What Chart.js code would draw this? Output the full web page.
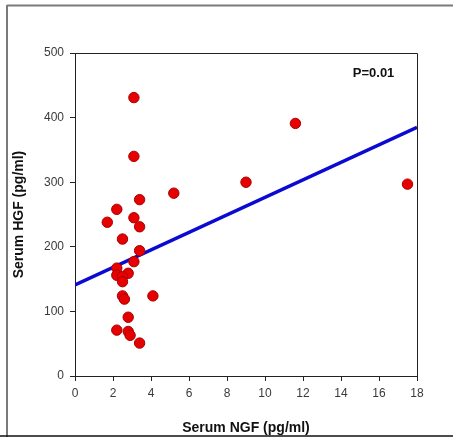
<!DOCTYPE html>
<html>
<head>
<meta charset="utf-8">
<script src="https://cdn.jsdelivr.net/npm/chart.js@4.4.1/dist/chart.umd.min.js"></script>
<style>
  html, body { margin: 0; padding: 0; background: #fff; }
  #wrap { width: 453px; height: 437px; position: relative; }
</style>
</head>
<body>
<div id="wrap"><canvas id="c" width="453" height="437"></canvas></div>
<script>
// Data
const ngfValues = [3.1, 3.1, 5.2, 3.4, 2.2, 1.7, 3.1, 3.4, 2.5, 3.4, 3.1, 2.2, 2.2, 2.8, 2.5, 2.5, 2.5, 2.6, 4.1, 2.8, 2.2, 2.8, 2.9, 3.4, 9.0, 11.6, 17.5];
const hgfValues = [431, 340, 283, 273, 258, 238, 245, 231, 212, 194, 177, 167, 156, 159, 154, 146, 124, 119, 124, 91, 71, 69, 63, 51, 300, 391, 297];
const fitX = [0, 18];
const fitY = [141, 385];
const xTicks = [0, 2, 4, 6, 8, 10, 12, 14, 16, 18];
const yTicks = [0, 100, 200, 300, 400, 500];
const xTitle = 'Serum NGF (pg/ml)';
const yTitle = 'Serum HGF (pg/ml)';
const pLabel = 'P=0.01';

const FONT = "Arial, 'Liberation Sans', sans-serif";

const framePlugin = {
  id: 'frame',
  beforeDraw(chart) {
    const ctx = chart.ctx;
    ctx.save();
    ctx.fillStyle = '#fff';
    ctx.fillRect(0, 0, chart.width, chart.height);
    ctx.strokeStyle = '#7a7a7a';
    ctx.lineWidth = 2;
    ctx.beginPath();
    ctx.moveTo(7, 5.5);
    ctx.lineTo(chart.width, 5.5);
    ctx.moveTo(7, 5);
    ctx.lineTo(7, chart.height);
    ctx.stroke();
    ctx.strokeStyle = '#111';
    ctx.lineWidth = 1.5;
    ctx.beginPath();
    ctx.moveTo(0, 436);
    ctx.lineTo(chart.width, 436);
    ctx.stroke();
    ctx.restore();
  },
  afterDraw(chart) {
    const {ctx, chartArea: a} = chart;
    ctx.save();
    ctx.strokeStyle = '#222';
    ctx.lineWidth = 1;
    ctx.beginPath();
    ctx.moveTo(a.left, a.top + 0.5);
    ctx.lineTo(a.right + 0.5, a.top + 0.5);
    ctx.lineTo(a.right + 0.5, a.bottom);
    ctx.stroke();
    ctx.fillStyle = '#111';
    ctx.font = 'bold 13px ' + FONT;
    ctx.textAlign = 'center';
    ctx.textBaseline = 'middle';
    ctx.fillText(pLabel, a.left + (a.right - a.left) * 0.873, a.top + 20);
    ctx.restore();
  }
};

new Chart(document.getElementById('c'), {
  type: 'scatter',
  data: {
    datasets: [
      {
        type: 'scatter',
        data: ngfValues.map((v, i) => ({x: v, y: hgfValues[i]})),
        backgroundColor: '#e60000',
        borderColor: '#a80000',
        borderWidth: 1,
        pointRadius: 5.2,
        pointHoverRadius: 5.2
      },
      {
        type: 'line',
        data: fitX.map((v, i) => ({x: v, y: fitY[i]})),
        borderColor: '#0a0ad2',
        borderWidth: 3.5,
        pointRadius: 0,
        fill: false,
        tension: 0
      }
    ]
  },
  plugins: [framePlugin],
  options: {
    responsive: false,
    animation: false,
    devicePixelRatio: 1,
    layout: { padding: { top: 53, right: 36, bottom: 0, left: 0 } },
    plugins: { legend: { display: false }, tooltip: { enabled: false } },
    scales: {
      x: {
        type: 'linear',
        min: 0, max: 18,
        afterBuildTicks: (s) => { s.ticks = xTicks.map(v => ({value: v})); },
        afterFit: (s) => { s.height = 61; },
        ticks: { color: '#3a3a3a', font: { family: FONT, size: 12 }, padding: 5, maxRotation: 0 },
        grid: { drawOnChartArea: false, tickLength: 5, color: '#222', tickColor: '#222' },
        border: { color: '#222', width: 1 },
        title: { display: true, text: xTitle, color: '#111', font: { family: FONT, size: 14, weight: 'bold' }, padding: { top: 0, bottom: 0.5 } }
      },
      y: {
        type: 'linear',
        min: 0, max: 500,
        afterBuildTicks: (s) => { s.ticks = yTicks.map(v => ({value: v})); },
        afterFit: (s) => { s.width = 75; },
        ticks: { color: '#3a3a3a', font: { family: FONT, size: 12 }, padding: 6 },
        grid: { drawOnChartArea: false, tickLength: 5, color: '#222', tickColor: '#222' },
        border: { color: '#222', width: 1 },
        title: { display: true, text: yTitle, color: '#111', font: { family: FONT, size: 14, weight: 'bold' }, padding: { top: 11, bottom: 0 } }
      }
    }
  }
});
</script>
</body>
</html>
